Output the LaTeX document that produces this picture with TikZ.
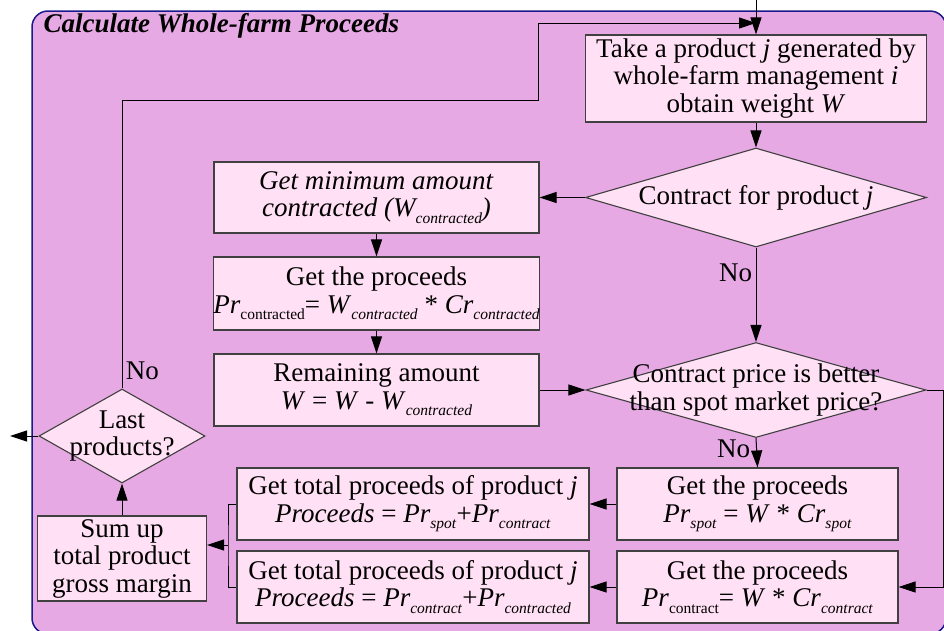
\documentclass[tikz,border=0pt]{standalone}
\usepackage{fontspec}
\setmainfont{Liberation Serif}
\usetikzlibrary{shapes.geometric, arrows.meta}
\definecolor{farmviolet}{HTML}{E6A9E3}
\definecolor{farmpink}{HTML}{FFE0F4}
\definecolor{farmnavy}{HTML}{1A1A8C}
\newcommand{\subx}[1]{\raisebox{-6.5pt}{\fontsize{15.5}{16}\selectfont#1}}
\begin{document}
\begin{tikzpicture}[x=1pt,y=-1pt,
  every node/.style={font=\fontsize{27}{27.5}\selectfont},
  procbox/.style={draw=black!75,line width=1.1pt,fill=farmpink,align=center,inner sep=0pt},
  decision/.style={diamond,draw=black!75,line width=1.1pt,fill=farmpink,inner sep=0pt},
  flow/.style={line width=1pt,-{Triangle[length=17pt,width=11pt]}}]
  \clip(0,0)rectangle(944,630);
  \draw[rounded corners=16pt,fill=farmviolet,draw=farmnavy,line width=1.5pt](32,11)rectangle(946,634);
  \node[anchor=west](title)at(40,26){\bfseries\itshape Calculate Whole-farm Proceeds};
  \node[procbox,minimum width=341pt,minimum height=87pt](take)at(756,78.5){Take a product \textit{j} generated by\\whole-farm management \textit{i}\\obtain weight \textit{W}};
  \node[decision,minimum width=341pt,minimum height=99pt,label=center:{Contract for product \textit{j}}](cj)at(756,197.5){};
  \node[procbox,minimum width=325pt,minimum height=71pt](getmin)at(376.5,197.5){\textit{Get minimum amount}\\\textit{contracted (W\subx{contracted})}};
  \node[procbox,minimum width=325pt,minimum height=73pt](getpc)at(376.5,293.5){Get the proceeds\\\textit{Pr}\subx{contracted}= \textit{W}\subx{\textit{contracted}} * \textit{Cr}\subx{\textit{contracted}}};
  \node[procbox,minimum width=325pt,minimum height=72pt](remain)at(376.5,390){Remaining amount\\\textit{W} = \textit{W} - \textit{W}\subx{\textit{contracted}}};
  \node[decision,minimum width=340pt,minimum height=95pt,label={[align=center]center:Contract price is better\\than spot market price?}](better)at(756,390){};
  \node[procbox,minimum width=281pt,minimum height=72pt](spot)at(757.5,504){Get the proceeds\\\textit{Pr}\subx{\textit{spot}} = \textit{W} * \textit{Cr}\subx{\textit{spot}}};
  \node[procbox,minimum width=281pt,minimum height=72pt](contract)at(757.5,587){Get the proceeds\\\textit{Pr}\subx{contract}= \textit{W} * \textit{Cr}\subx{\textit{contract}}};
  \node[procbox,minimum width=352pt,minimum height=72pt](totspot)at(413,504){Get total proceeds of product \textit{j}\\\textit{Proceeds} = \textit{Pr}\subx{\textit{spot}}+\textit{Pr}\subx{\textit{contract}}};
  \node[procbox,minimum width=352pt,minimum height=72pt](totcon)at(413,587){Get total proceeds of product \textit{j}\\\textit{Proceeds} = \textit{Pr}\subx{\textit{contract}}+\textit{Pr}\subx{\textit{contracted}}};
  \node[procbox,minimum width=169pt,minimum height=85pt](sumup)at(122,558.5){Sum up\\total product\\gross margin};
  \node[decision,minimum width=166pt,minimum height=94pt,label={[align=center]center:Last\\products?}](last)at(122,436){};
  \coordinate(topin)at(756,0);
  \coordinate(jn)at(756,23);
  \coordinate(br)at(228,545);
  \coordinate(outl)at(10,436);
  \draw[flow](topin)--(take.north);
  \draw[flow](last.north)--node[right,pos=0.06](nolast){No}(122,100)-|(538,23)--(jn);
  \draw[flow](take.south)--(cj.north);
  \draw[flow](cj.west)--(getmin.east);
  \draw[flow](getmin)--(getpc);
  \draw[flow](getpc)--(remain);
  \draw[flow](remain.east)--(better.west);
  \draw[flow](cj.south)--node[left,pos=0.27](nocj){No}(better.north);
  \draw[flow](better.south)--node[left,pos=0.38,inner sep=6pt](nobet){No}(spot.north);
  \draw[flow](better.east)-|([xshift=45pt]contract.east)--(contract.east);
  \draw[flow](spot)--(totspot);
  \draw[flow](contract)--(totcon);
  \draw[line width=1pt](totspot.west)-|(br)|-(totcon.west);
  \draw[flow](br)--(br-|sumup.east);
  \draw[flow](sumup)--(last);
  \draw[flow](last.west)--(outl);
\end{tikzpicture}
\end{document}
